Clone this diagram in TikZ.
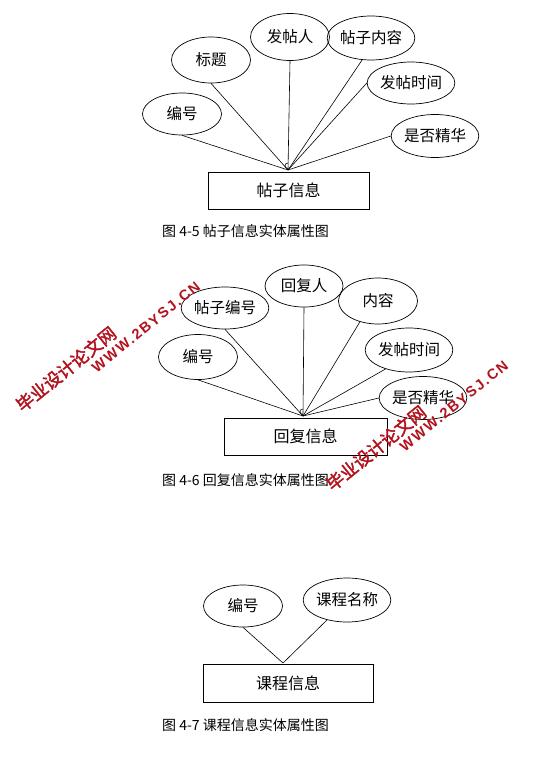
\documentclass[tikz,border=0pt]{standalone}
\usepackage{fontspec}
\setmainfont{Noto Sans CJK SC}
\newfontfamily\wmcjk[FakeBold=2]{Noto Sans CJK SC}
\newfontfamily\wmlat[LetterSpace=12]{Liberation Sans}
\usetikzlibrary{shapes.geometric}
\definecolor{wmred}{HTML}{B3121C}
\begin{document}
\begin{tikzpicture}[x=1pt,y=-1pt,
  attr/.style={draw,ellipse,line width=0.7pt,minimum width=79pt,minimum height=44pt,inner sep=0pt,font=\fontsize{15.5}{15.5}\selectfont},
  ent/.style={draw,rectangle,line width=0.7pt,inner sep=0pt,font=\fontsize{16}{16}\selectfont},
  link/.style={line width=0.6pt},
  captxt/.style={anchor=west,inner sep=0pt,font=\fontsize{14}{14}\selectfont},
  wmc/.style={text=wmred,inner sep=0pt,rotate=39,font=\wmcjk\fontsize{17.5}{17.5}\selectfont},
  wml/.style={text=wmred,inner sep=0pt,rotate=39,font=\wmlat\bfseries\fontsize{14.5}{14.5}\selectfont}]
\useasboundingbox[fill=white] (0,0) rectangle (548,757);

% ---------- Figure 4-5 ----------
\node[ent,minimum width=161pt,minimum height=37pt] (e1) at (288.5,190.5) {帖子信息};
\coordinate (p1) at (288,170);
\node[attr,minimum height=42pt] (a11) at (182,114) {编号};
\node[attr,minimum height=46pt] (a12) at (211,60) {标题};
\node[attr,minimum height=47pt] (a13) at (290,37) {发帖人};
\node[attr] (a14) at (371,38) {帖子内容};
\node[attr,minimum height=42pt] (a15) at (411,83) {发帖时间};
\node[attr,minimum height=43pt] (a16) at (435,136) {是否精华};
\draw[link] (a11.south) -- (p1);
\draw[link] (a12.south) -- (p1);
\draw[link] (a13.south) -- (p1);
\draw[link] (a14.248) -- (p1);
\draw[link] (a15.west) -- (p1);
\draw[link] (a16.west) -- (p1);
\draw[link] ([yshift=1.5pt]p1) .. controls +(-4pt,0) and +(-4pt,0) .. ([yshift=7pt]p1);
\node[captxt] (c1) at (162,231) {图 4-5 帖子信息实体属性图};

% ---------- Figure 4-6 ----------
\node[ent,minimum width=163pt,minimum height=37pt] (e2) at (305.5,436.5) {回复信息};
\coordinate (p2) at (303,416);
\node[attr,minimum height=45pt] (a21) at (198,357) {编号};
\node[attr,minimum height=42pt] (a22) at (225,308) {帖子编号};
\node[attr,minimum width=78pt,minimum height=42pt] (a23) at (304,286) {回复人};
\node[attr,minimum height=46pt] (a24) at (378,301) {内容};
\node[attr] (a25) at (409,350) {发帖时间};
\node[attr,minimum width=78pt,minimum height=43pt] (a26) at (423,398) {是否精华};
\draw[link] (a21.south) -- (p2);
\draw[link] (a22.south) -- (p2);
\draw[link] (a23.south) -- (p2);
\draw[link] (a24.229) -- (p2);
\draw[link] (a25.219) -- (p2);
\draw[link] (a26.west) -- (p2);
\draw[link] ([yshift=1.5pt]p2) .. controls +(-4pt,0) and +(-4pt,0) .. ([yshift=7pt]p2);
\node[captxt] (c2) at (162,480) {图 4-6 回复信息实体属性图};

% ---------- Figure 4-7 ----------
\node[ent,minimum width=170pt,minimum height=38pt] (e3) at (288,683) {课程信息};
\coordinate (p3) at (283,663);
\node[attr,minimum height=42pt] (a31) at (243,606) {编号};
\node[attr,minimum width=80pt] (a32) at (347,600) {课程名称};
\draw[link] (a31.south) -- (p3);
\draw[link] (a32.225) -- (p3);
\node[captxt] (c3) at (162,725) {图 4-7 课程信息实体属性图};

% ---------- watermarks ----------
\node[wmc] (w1) at (66,369) {毕业设计论文网};
\node[wml] (w2) at (146,327) {WWW.2BYSJ.CN};
\node[wmc] (w3) at (376,448) {毕业设计论文网};
\node[wml] (w4) at (454,406) {WWW.2BYSJ.CN};
\end{tikzpicture}
\end{document}
